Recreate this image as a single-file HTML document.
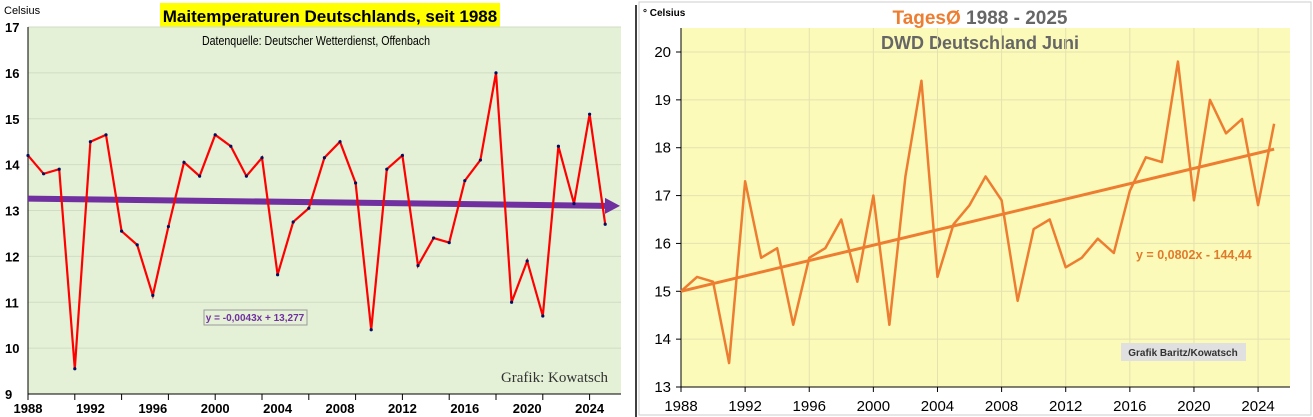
<!DOCTYPE html>
<html><head><meta charset="utf-8"><style>
body{margin:0;background:#fff;width:1313px;height:417px;overflow:hidden}
svg{display:block;font-family:"Liberation Sans",sans-serif}
</style></head><body>
<svg id="s" width="1313" height="417" viewBox="0 0 1313 417">
<rect x="0" y="0" width="627" height="417" fill="#fff"/>
<rect x="28" y="27" width="593" height="367" fill="#e5f1d6"/>
<rect x="160" y="3" width="340" height="24" fill="#ffff00"/>
<text x="330" y="22" text-anchor="middle" font-weight="bold" font-size="17">Maitemperaturen Deutschlands, seit 1988</text>
<text x="316" y="45" text-anchor="middle" font-size="12.5" transform="translate(316 0) scale(0.85 1) translate(-316 0)">Datenquelle: Deutscher Wetterdienst, Offenbach</text>
<text x="4" y="14" font-size="11">Celsius</text>
<g id="lg"></g>
<rect x="204" y="310" width="103" height="15" fill="#e5f1d6" stroke="#999"/>
<text x="255" y="321" text-anchor="middle" font-size="10" font-weight="bold" fill="#7030a0">y = -0,0043x + 13,277</text>
<text x="608" y="382" text-anchor="end" font-size="15" font-family="Liberation Serif,serif" fill="#333">Grafik: Kowatsch</text>
<line x1="636" y1="5" x2="636" y2="417" stroke="#000" stroke-width="1.5"/>
<rect x="639" y="2" width="672" height="413" fill="#fff" stroke="#ccc"/>
<rect x="681" y="28" width="609" height="359" fill="#fcfab8"/>
<text x="643" y="16" font-size="10" font-weight="bold">° Celsius</text>
<text x="980" y="24" text-anchor="middle" font-size="19" font-weight="bold"><tspan fill="#ed7d31">TagesØ</tspan><tspan fill="#666">  1988 - 2025</tspan></text>
<text x="980" y="49" text-anchor="middle" font-size="18" font-weight="bold" fill="#666">DWD Deutschland Juni</text>
<g id="rg"></g>
<text x="1136" y="259" font-size="12.5" font-weight="bold" fill="#e07b2e">y = 0,0802x - 144,44</text>
<rect x="1121" y="343" width="125" height="18" fill="#e0e0e0"/>
<text x="1183" y="356" text-anchor="middle" font-size="10" font-weight="bold" fill="#333">Grafik Baritz/Kowatsch</text>
</svg>
<script>
const years=[];for(let y=1988;y<=2025;y++)years.push(y);
const mayTemps=[14.2,13.8,13.9,9.55,14.5,14.65,12.55,12.25,11.15,12.65,14.05,13.75,14.65,14.4,13.75,14.15,11.6,12.75,13.05,14.15,14.5,13.6,10.4,13.9,14.2,11.8,12.4,12.3,13.65,14.1,16.0,11.0,11.9,10.7,14.4,13.15,15.1,12.7];
const mayTrend=[13.26,13.1];
const leftYTicks=[9,10,11,12,13,14,15,16,17];
const leftXLabels=[1988,1992,1996,2000,2004,2008,2012,2016,2020,2024];
const juneTemps=[15.0,15.3,15.2,13.5,17.3,15.7,15.9,14.3,15.7,15.9,16.5,15.2,17.0,14.3,17.4,19.4,15.3,16.4,16.8,17.4,16.9,14.8,16.3,16.5,15.5,15.7,16.1,15.8,17.1,17.8,17.7,19.8,16.9,19.0,18.3,18.6,16.8,18.5];
const juneTrend=[15.0,17.97];
const rightYTicks=[13,14,15,16,17,18,19,20];
const rightXLabels=[1988,1992,1996,2000,2004,2008,2012,2016,2020,2024];
const NS='http://www.w3.org/2000/svg';
function mk(p,t,a){const e=document.createElementNS(NS,t);for(const k in a)e.setAttribute(k,a[k]);p.appendChild(e);return e;}
const lx=y=>28+(y-1988)*15.6, ly=v=>394-(v-9)*(367/8);
const lg=document.getElementById('lg');
leftYTicks.forEach(v=>{
 const g=mk(lg,'line',{x1:28,x2:621,y1:ly(v),y2:ly(v),stroke:'#d0dcc4','stroke-width':1});
 
 
 const t=mk(lg,'text',{x:5,y:ly(v)+5,'font-size':13,'font-weight':'bold'});t.textContent=v;
 
 
});
mk(lg,'line',{x1:28,x2:28,y1:27,y2:394,stroke:'#000'});
mk(lg,'line',{x1:28,x2:621,y1:394,y2:394,stroke:'#000'});
for(let y=1988;y<=2025;y+=3){mk(lg,'line',{x1:lx(y),x2:lx(y),y1:394,y2:400,stroke:'#000'});}
leftXLabels.forEach(y=>{const t=mk(lg,'text',{x:lx(y),y:413,'font-size':13,'font-weight':'bold','text-anchor':'middle'});t.textContent=y;
 
 });
const tr=mk(lg,'line',{x1:28,y1:ly(mayTrend[0]),x2:607,y2:ly(mayTrend[1]),stroke:'#7030a0','stroke-width':6});


mk(lg,'polygon',{points:`605,${ly(mayTrend[1])-8} 620,${ly(mayTrend[1])} 605,${ly(mayTrend[1])+8}`,fill:'#7030a0'});
const lp=mk(lg,'polyline',{points:mayTemps.map((v,i)=>lx(years[i])+','+ly(v)).join(' '),fill:'none',stroke:'#ff0000','stroke-width':2.2});


mayTemps.forEach((v,i)=>{const c=mk(lg,'circle',{cx:lx(years[i]),cy:ly(v),r:1.6,fill:'#001060'});
 
 });
const rx=y=>681+(y-1988)*16.03, ry=v=>387-(v-13)*(335/7);
const rg=document.getElementById('rg');
rightXLabels.forEach(y=>{if(y>1988)mk(rg,'line',{x1:rx(y),x2:rx(y),y1:28,y2:387,stroke:'#e4e2b0'});});
rightYTicks.forEach(v=>{
 const g=mk(rg,'line',{x1:681,x2:1290,y1:ry(v),y2:ry(v),stroke:'#e4e2b0'});
 
 
 mk(rg,'line',{x1:676,x2:681,y1:ry(v),y2:ry(v),stroke:'#000'});
 const t=mk(rg,'text',{x:671,y:ry(v)+5,'font-size':15,'text-anchor':'end'});t.textContent=v;
 
 
});
mk(rg,'line',{x1:681,x2:681,y1:28,y2:387,stroke:'#000'});
mk(rg,'line',{x1:681,x2:1290,y1:387,y2:387,stroke:'#000'});
rightXLabels.forEach(y=>{mk(rg,'line',{x1:rx(y),x2:rx(y),y1:387,y2:392,stroke:'#000'});
 const t=mk(rg,'text',{x:rx(y),y:411,'font-size':15,'text-anchor':'middle'});t.textContent=y;
 
 });
const rp=mk(rg,'polyline',{points:juneTemps.map((v,i)=>rx(years[i])+','+ry(v)).join(' '),fill:'none',stroke:'#ed7d31','stroke-width':2.5,'stroke-linejoin':'round'});


const rt=mk(rg,'line',{x1:rx(1988),y1:ry(juneTrend[0]),x2:rx(2025),y2:ry(juneTrend[1]),stroke:'#ed7d31','stroke-width':3});


</script>
</body></html>
